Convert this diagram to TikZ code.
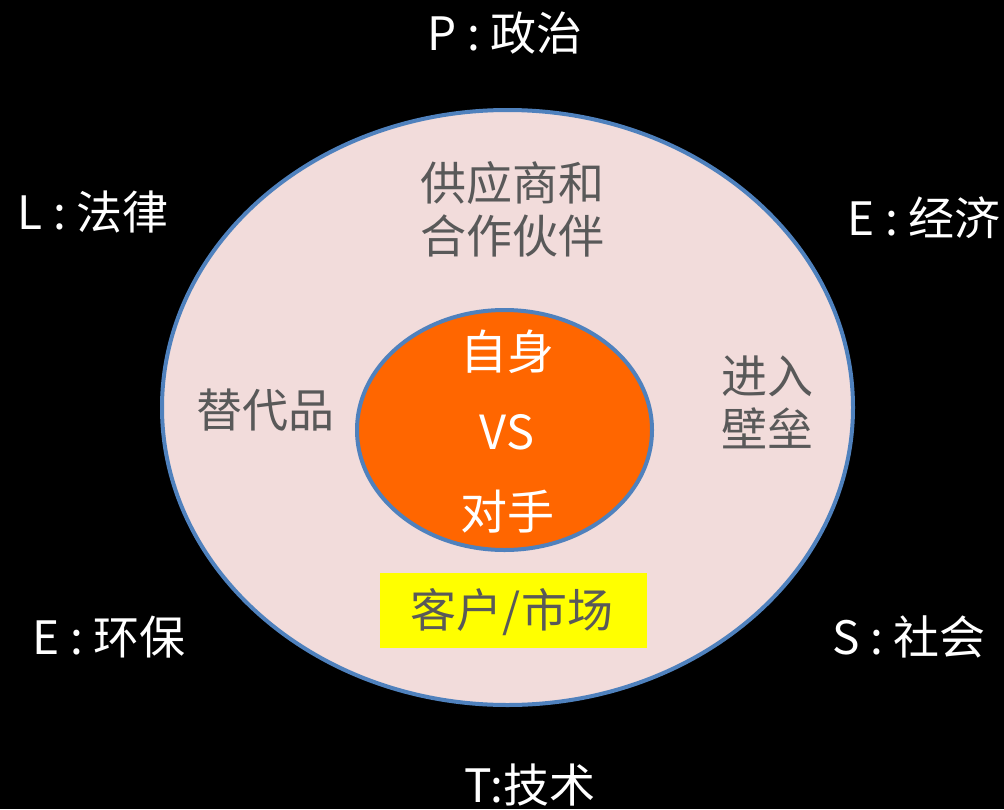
\documentclass[tikz,border=0pt]{standalone}
\usepackage{fontspec}
\usetikzlibrary{shapes.geometric}
\setmainfont{Noto Sans CJK SC}
\definecolor{edgeblue}{HTML}{4F81BD}
\definecolor{pinkfill}{HTML}{F2DCDB}
\definecolor{orangefill}{HTML}{FF6600}
\definecolor{graytext}{HTML}{595959}
\definecolor{yellowfill}{HTML}{FFFF00}
\tikzset{
  pest/.style={text=white, font=\fontsize{46}{52}\selectfont, inner sep=0pt},
  ringtext/.style={text=graytext, font=\fontsize{46}{53}\selectfont, inner sep=0pt, align=center},
  coretext/.style={text=white, font=\fontsize{47}{52}\selectfont, inner sep=0pt},
  ring/.style={draw=edgeblue, line width=4pt}
}
\begin{document}
\begin{tikzpicture}[x=1pt,y=-1pt]
\fill[black] (0,0) rectangle (1004,809);
\useasboundingbox (0,0) rectangle (1004,809);
\node[ring, fill=pinkfill, ellipse, minimum width=691pt, minimum height=595pt, inner sep=0pt] (outer) at (507.5,407.5) {};
\node[ring, fill=orangefill, ellipse, minimum width=295pt, minimum height=240pt, inner sep=0pt] (inner) at (504.5,430) {};
\node[fill=yellowfill, minimum width=267pt, minimum height=75pt, inner sep=0pt] (market) at (513.5,610.5) {};
\node[ringtext] (markettext) at (512,612) {客户/市场};
\node[ringtext] (supplier) at (512,209) {供应商和\\合作伙伴};
\node[ringtext] (subst) at (265,410) {替代品};
\node[ringtext] (barrier) at (767,402) {进入\\壁垒};
\node[coretext] (self) at (507,352) {自身};
\node[coretext] (vs) at (507,432) {VS};
\node[coretext] (rival) at (507,512) {对手};
\node[pest] (p) at (505,33) {P : 政治};
\node[pest] (l) at (93,212) {L : 法律};
\node[pest] (e1) at (924,218) {E : 经济};
\node[pest] (e2) at (109,637) {E : 环保};
\node[pest] (s) at (909,637) {S : 社会};
\node[pest] (t) at (530,785) {T:技术};
\end{tikzpicture}
\end{document}
